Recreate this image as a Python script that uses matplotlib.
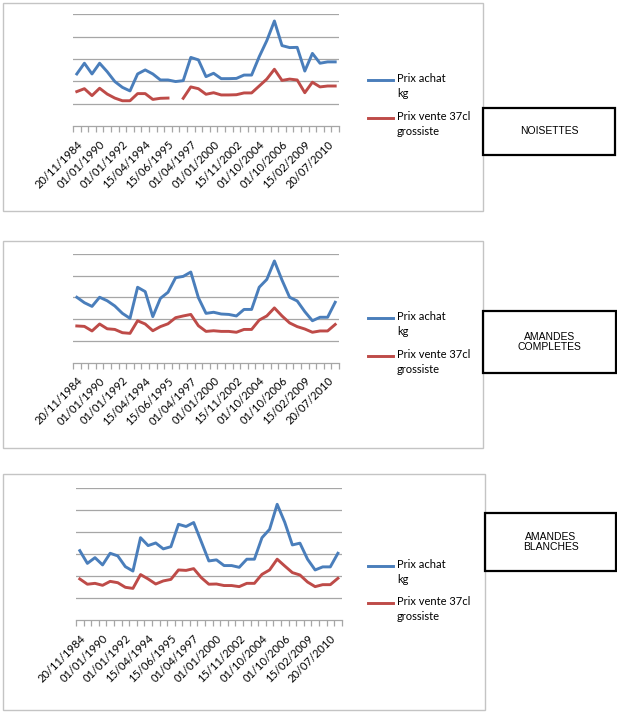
import matplotlib
matplotlib.use("Agg")
import matplotlib.pyplot as plt
import numpy as np
from matplotlib.patches import Rectangle
from matplotlib.lines import Line2D

W, H = 617, 712

# category labels shown (every 3rd of 35 categories)
date_labels = ["20/11/1984", "01/01/1990", "01/01/1992", "15/04/1994", "15/06/1995",
               "01/04/1997", "01/01/2000", "15/11/2002", "01/10/2004", "01/10/2006",
               "15/02/2009", "20/07/2010"]
n_cat = 35
label_step = 3

noisettes_achat = [2.33, 2.81, 2.33, 2.81, 2.43, 1.99, 1.73, 1.57, 2.33, 2.51, 2.33, 2.06,
                   2.06, 1.99, 2.03, 3.07, 2.96, 2.21, 2.36, 2.12, 2.12, 2.13, 2.28, 2.28,
                   3.10, 3.82, 4.70, 3.60, 3.51, 3.52, 2.46, 3.25, 2.81, 2.87, 2.87]
noisettes_vente = [1.54, 1.67, 1.36, 1.69, 1.43, 1.25, 1.13, 1.13, 1.45, 1.45, 1.19, 1.24,
                   1.25, np.nan, 1.24, 1.75, 1.67, 1.42, 1.49, 1.39, 1.39, 1.40, 1.48, 1.48,
                   1.79, 2.10, 2.54, 2.04, 2.10, 2.06, 1.49, 1.96, 1.75, 1.79, 1.79]

completes_achat = [3.01, 2.76, 2.59, 3.01, 2.85, 2.61, 2.27, 2.04, 3.47, 3.27, 2.12, 2.96,
                   3.24, 3.91, 3.97, 4.17, 2.99, 2.27, 2.32, 2.24, 2.22, 2.15, 2.45, 2.45,
                   3.47, 3.83, 4.68, 3.80, 3.01, 2.84, 2.35, 1.93, 2.09, 2.09, 2.78]
completes_vente = [1.69, 1.67, 1.46, 1.78, 1.56, 1.53, 1.38, 1.35, 1.93, 1.78, 1.47, 1.66,
                   1.79, 2.07, 2.15, 2.22, 1.70, 1.44, 1.47, 1.44, 1.44, 1.40, 1.53, 1.53,
                   1.96, 2.15, 2.52, 2.15, 1.83, 1.66, 1.55, 1.40, 1.46, 1.46, 1.76]

blanches_achat = [3.16, 2.58, 2.84, 2.51, 3.04, 2.92, 2.43, 2.23, 3.75, 3.39, 3.51, 3.24,
                  3.34, 4.36, 4.26, 4.44, 3.57, 2.69, 2.74, 2.48, 2.48, 2.40, 2.77, 2.77,
                  3.75, 4.13, 5.27, 4.45, 3.42, 3.50, 2.77, 2.28, 2.42, 2.42, 3.04]
blanches_vente = [1.87, 1.63, 1.67, 1.58, 1.76, 1.70, 1.49, 1.44, 2.07, 1.87, 1.64, 1.78,
                  1.85, 2.28, 2.26, 2.34, 1.93, 1.63, 1.64, 1.57, 1.57, 1.52, 1.67, 1.67,
                  2.08, 2.28, 2.77, 2.46, 2.16, 2.05, 1.73, 1.52, 1.61, 1.61, 1.90]

series_names = ["Prix achat\nkg", "Prix vente 37cl\ngrossiste"]
panel_titles = ["NOISETTES", "AMANDES\nCOMPLETES", "AMANDES\nBLANCHES"]

blue = "#4a7ebb"
red = "#be4b48"
grid_col = "#a6a6a6"


def fx(x):
    return x / W


def fy(y):
    return 1 - y / H


fig = plt.figure(figsize=(W / 100, H / 100), dpi=100)

panels = [
    # frame, axes box (x0, x1, ytop, ybottom), ymax, legend y, side box
    dict(frame=(3, 3, 483, 211), ax=(73, 339, 14.3, 126), ymax=5, leg=(80, 118),
         box=(483, 108, 615, 155), a=noisettes_achat, v=noisettes_vente),
    dict(frame=(3, 241, 483, 448), ax=(73, 339, 254, 362.7), ymax=5, leg=(318, 356),
         box=(483, 311, 616, 373), a=completes_achat, v=completes_vente),
    dict(frame=(3, 474, 485, 710), ax=(76, 341.7, 488.3, 620), ymax=6, leg=(566, 603),
         box=(485, 513, 616, 571), a=blanches_achat, v=blanches_vente),
]

x = np.arange(n_cat)
for p, title in zip(panels, panel_titles):
    x0, y0, x1, y1 = p["frame"]
    fig.add_artist(Rectangle((fx(x0), fy(y1)), (x1 - x0) / W, (y1 - y0) / H,
                             transform=fig.transFigure, fill=False,
                             edgecolor="#c4c4c4", lw=1.0))

    ax0, ax1, ayt, ayb = p["ax"]
    ax = fig.add_axes([fx(ax0), fy(ayb), (ax1 - ax0) / W, (ayb - ayt) / H])
    ax.plot(x, p["a"], color=blue, lw=2.1, solid_joinstyle="round")
    ax.plot(x, p["v"], color=red, lw=2.1, solid_joinstyle="round")
    ax.set_xlim(-0.5, n_cat - 0.5)
    ax.set_ylim(0, p["ymax"])
    for gy in range(1, p["ymax"] + 1):
        ax.axhline(gy, color=grid_col, lw=0.9, zorder=0)
    for s in ["left", "right", "top"]:
        ax.spines[s].set_visible(False)
    ax.spines["bottom"].set_color(grid_col)
    ax.spines["bottom"].set_linewidth(0.9)
    ax.set_yticks([])
    ax.set_xticks(x[::label_step])
    ax.set_xticklabels(date_labels, rotation=45, ha="right", rotation_mode="anchor",
                       fontsize=8, family="Lato")
    ax.set_xticks(np.arange(-0.5, n_cat), minor=True)
    ax.tick_params(axis="x", which="major", length=0, pad=9)
    ax.tick_params(axis="x", which="minor", length=4, color=grid_col, width=0.9)
    ax.patch.set_alpha(0)

    ly1, ly2 = p["leg"]
    for ly, col, name in zip((ly1, ly2), (blue, red), series_names):
        fig.add_artist(Line2D([fx(368), fx(393)], [fy(ly), fy(ly)], color=col, lw=2.1,
                              transform=fig.transFigure))
        fig.text(fx(397), fy(ly - 7), name, ha="left", va="top", fontsize=8,
                 family="Lato", linespacing=1.45)

    bx0, by0, bx1, by1 = p["box"]
    fig.add_artist(Rectangle((fx(bx0), fy(by1)), (bx1 - bx0) / W, (by1 - by0) / H,
                             transform=fig.transFigure, fill=False,
                             edgecolor="black", lw=1.6))
    fig.text(fx((bx0 + bx1) / 2), fy((by0 + by1) / 2), title, ha="center", va="center",
             fontsize=7.5, family="Liberation Sans", linespacing=1.1)

fig.savefig("out.png", dpi=100)
